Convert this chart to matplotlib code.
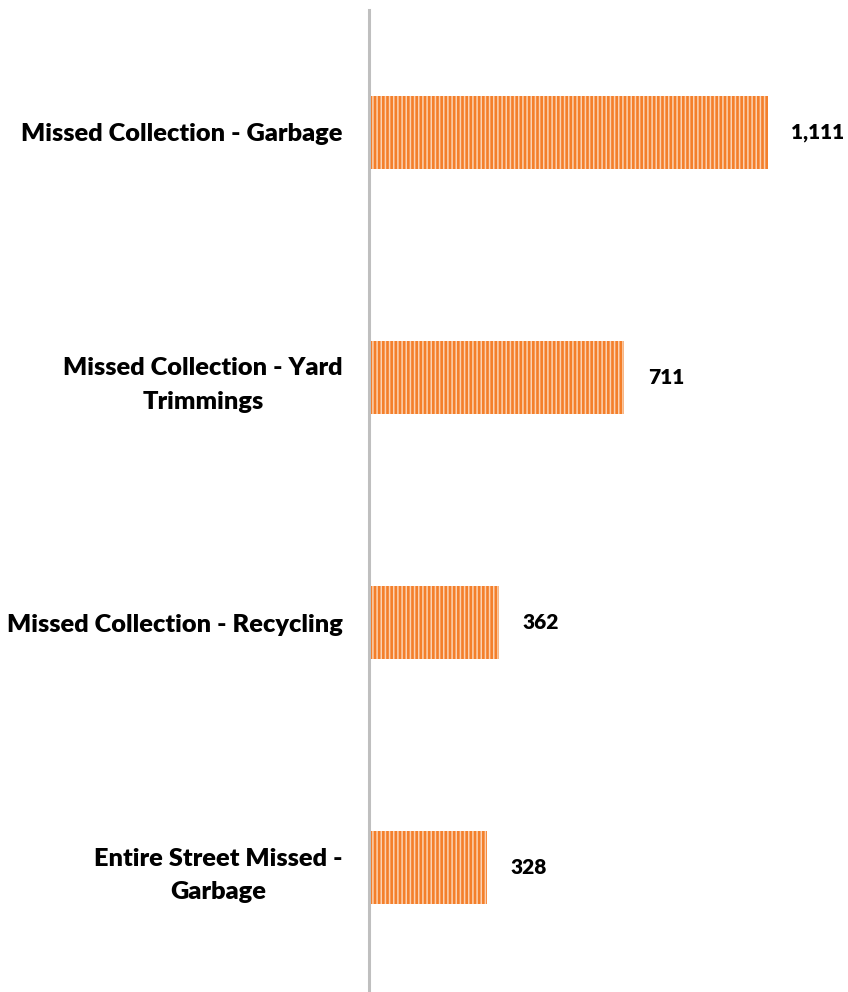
import matplotlib
matplotlib.use("Agg")
import matplotlib.pyplot as plt

categories = ["Missed Collection - Garbage", "Missed Collection - Yard\nTrimmings",
              "Missed Collection - Recycling", "Entire Street Missed -\nGarbage"]
values = [1111, 711, 362, 328]
value_labels = ["1,111", "711", "362", "328"]

plt.rcParams['font.family'] = ['Lato', 'DejaVu Sans']
plt.rcParams['hatch.linewidth'] = 1.1

fig = plt.figure(figsize=(8.48, 9.92), dpi=100)
ax = fig.add_axes([369/848, 2/992, 1 - 369/848, 980/992])

ypos = list(range(len(categories)))
ax.barh(ypos, values, height=0.3, color="#F47F2A", edgecolor="#FBD2B2",
        linewidth=0, hatch="||||")
for y, v, lab in zip(ypos, values, value_labels):
    ax.text(v + 65, y, lab, ha="left", va="center", fontsize=15,
            fontweight="heavy", color="#000000")

ax.set_ylim(3.5, -0.5)
ax.set_xlim(0, 1334)
ax.set_yticks(ypos)
ax.set_yticklabels(categories, fontsize=18.3, fontweight="heavy", ha="right",
                   multialignment="center", linespacing=1.65)
ax.tick_params(axis="y", length=0, pad=19)
ax.set_xticks([])
for s in ["top", "right", "bottom"]:
    ax.spines[s].set_visible(False)
ax.spines["left"].set_color("#BFBFBF")
ax.spines["left"].set_linewidth(2.2)

fig.savefig("out.png", dpi=100)
